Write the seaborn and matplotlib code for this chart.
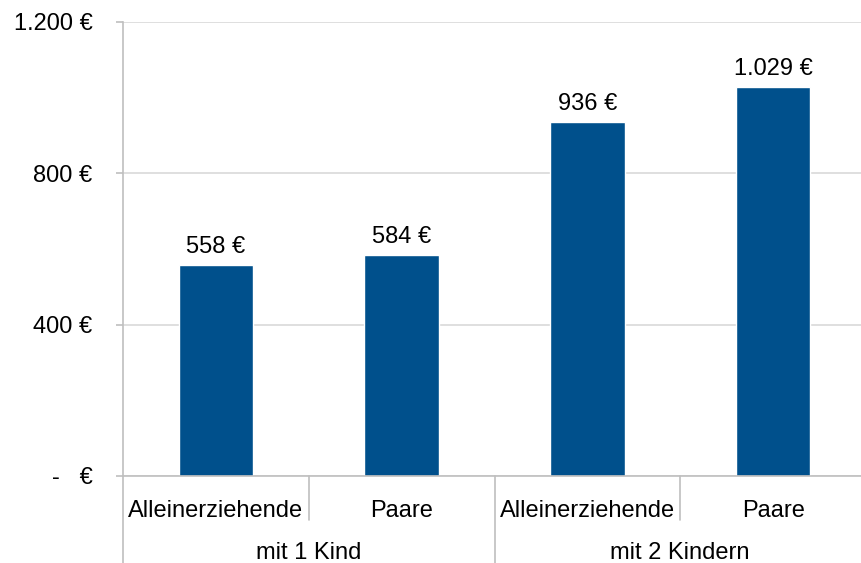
import matplotlib
matplotlib.use("Agg")
import matplotlib.pyplot as plt
import seaborn as sns
import pandas as pd
from matplotlib.transforms import blended_transform_factory

groups = ["mit 1 Kind", "mit 2 Kindern"]
sub_labels = ["Alleinerziehende", "Paare", "Alleinerziehende", "Paare"]
group_of = ["mit 1 Kind", "mit 1 Kind", "mit 2 Kindern", "mit 2 Kindern"]
values = [558, 584, 936, 1029]
value_labels = ["558 €", "584 €", "936 €", "1.029 €"]
y_ticks = [0, 400, 800, 1200]
y_tick_labels = ["-   €", "400 €", "800 €", "1.200 €"]

sns.set_theme(style="white")
plt.rcParams["font.family"] = ["Liberation Sans", "DejaVu Sans"]

W, H = 861, 563
fig = plt.figure(figsize=(W / 100, H / 100), dpi=100)
left, right, top, bottom = 123, 866, 22, 476
ax = fig.add_axes([left / W, (H - bottom) / H, (right - left) / W, (bottom - top) / H])

df = pd.DataFrame({"key": [f"{g}|{s}|{i}" for i, (g, s) in enumerate(zip(group_of, sub_labels))],
                   "value": values})
sns.barplot(data=df, x="key", y="value", color="#00508C", saturation=1, width=0.4, ax=ax)

ax.set_xlim(-0.5, len(values) - 0.5)
ax.set_ylim(0, 1200)
ax.set_yticks(y_ticks)
ax.set_yticklabels(y_tick_labels, fontsize=17, color="black")
for t in ax.get_yticklabels():
    t.set_va("center_baseline")
ax.set_xticks([])
ax.set_xlabel("")
ax.set_ylabel("")
ax.yaxis.grid(True, color="#d9d9d9", lw=1.2)
ax.set_axisbelow(True)
ax.tick_params(axis="y", left=True, length=5, width=1.2, color="#bfbfbf", pad=17)
for s in ["top", "right", "bottom"]:
    ax.spines[s].set_visible(False)
ax.spines["left"].set_color("#bfbfbf")
ax.spines["left"].set_linewidth(1.2)

# value labels
for i, (v, lab) in enumerate(zip(values, value_labels)):
    ax.annotate(lab, (i, v), xytext=(0, 8.5), textcoords="offset points",
                ha="center", va="baseline", fontsize=17, color="black")

ph = bottom - top
trans = blended_transform_factory(ax.transData, ax.transAxes)
# bottom axis line
ax.axhline(0, color="#bfbfbf", lw=1.2, zorder=3, clip_on=False)

# sub labels
for i, lab in enumerate(sub_labels):
    ax.text(i, -35 / ph, lab, transform=trans, ha="center", va="center",
            fontsize=17, color="black", clip_on=False)

# group labels
for gi, g in enumerate(groups):
    xs = [i for i, gg in enumerate(group_of) if gg == g]
    xc = (min(xs) + max(xs)) / 2
    ax.text(xc, -77 / ph, g, transform=trans, ha="center", va="center",
            fontsize=17, color="black", clip_on=False)

# separators
for xb in [-0.5, 1.5, 3.5]:
    ax.plot([xb, xb], [0, -(H - bottom) / ph], transform=trans, color="#bfbfbf",
            lw=1.2, clip_on=False)
for xb in [0.5, 2.5]:
    ax.plot([xb, xb], [0, -44 / ph], transform=trans, color="#bfbfbf",
            lw=1.2, clip_on=False)

fig.savefig("out.png", dpi=100)
